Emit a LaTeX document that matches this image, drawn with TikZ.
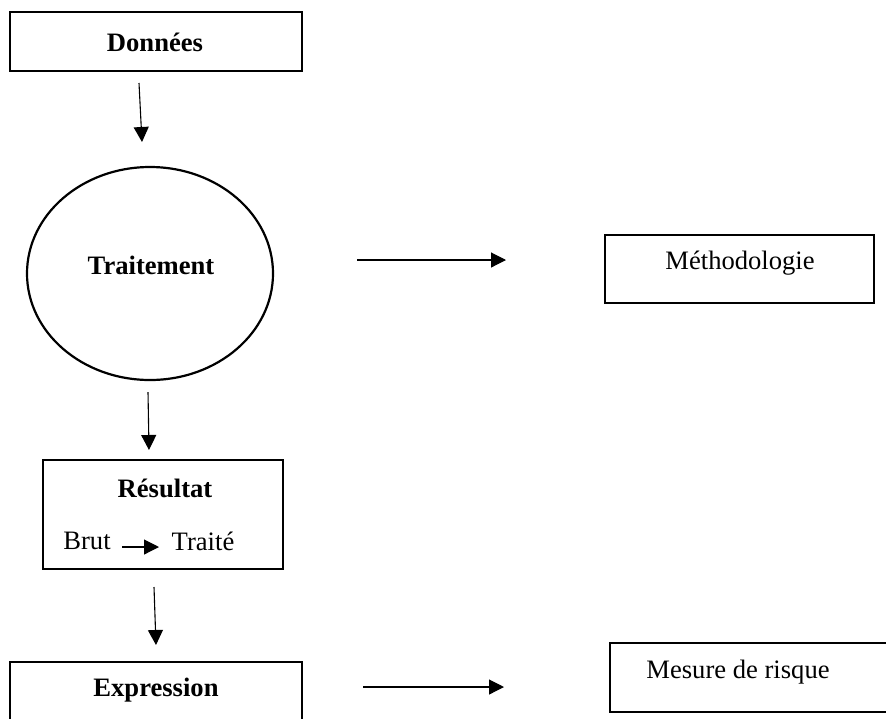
\documentclass[tikz,border=0pt]{standalone}
\usepackage{fontspec}
\setmainfont{Liberation Serif}
\usetikzlibrary{arrows.meta,shapes.geometric}

\tikzset{
  px/.style={x=0.5pt,y=-0.5pt},
  box/.style={draw,line width=1pt,rectangle,inner sep=0pt},
  label txt/.style={inner sep=0pt,font=\fontsize{13.3}{15}\selectfont},
  title txt/.style={label txt,font=\fontsize{13.3}{15}\selectfont\bfseries},
  flow/.style={line width=0.55pt,-{Triangle[length=7.5pt,width=7.5pt]}},
}

\begin{document}
\begin{tikzpicture}[px]
  \useasboundingbox (0,0) rectangle (886,718);
  \clip (0,0) rectangle (886,718);

  % main column
  \node[box,minimum width=146pt,minimum height=29.5pt] (donnees) at (156,41.5) {};
  \node[title txt] (donneesT) at (155,42) {Données};

  \node[draw,line width=1.1pt,ellipse,minimum width=123pt,minimum height=106.5pt,inner sep=0pt] (traitement) at (150,273.5) {};
  \node[title txt] (traitementT) at (151,265) {Traitement};

  \node[box,minimum width=120pt,minimum height=54.5pt] (resultat) at (163,514.5) {};
  \node[title txt] (resultatT) at (165,488) {Résultat};
  \node[label txt] (brut) at (87,541) {Brut};
  \node[label txt] (traite) at (203,541) {Traité};

  \node[box,minimum width=146pt,minimum height=36pt] (expression) at (156,698) {};
  \node[title txt] (expressionT) at (156,690) {Expression};

  % right column
  \node[box,minimum width=134.5pt,minimum height=34pt] (methodo) at (739.5,269) {};
  \node[label txt] (methodoT) at (740,263) {Méthodologie};

  \node[box,minimum width=150pt,minimum height=34.5pt] (mesure) at (760,677.5) {};
  \node[label txt] (mesureT) at (738,672) {Mesure de risque};

  % free-standing arrows between the blocks
  \coordinate (a1s) at (139,83);   \coordinate (a1e) at (142,142);
  \coordinate (a2s) at (148,392);  \coordinate (a2e) at (149,450);
  \coordinate (a3s) at (154,587);  \coordinate (a3e) at (156,645);
  \coordinate (h1s) at (357,260);  \coordinate (h1e) at (506,260);
  \coordinate (h2s) at (363,687);  \coordinate (h2e) at (504,687);
  \coordinate (bts) at (122,547);  \coordinate (bte) at (159,547);

  \draw[flow] (a1s) -- (a1e);
  \draw[flow] (a2s) -- (a2e);
  \draw[flow] (a3s) -- (a3e);
  \draw[flow] (h1s) -- (h1e);
  \draw[flow] (h2s) -- (h2e);
  \draw[flow] (bts) -- (bte);
\end{tikzpicture}
\end{document}
